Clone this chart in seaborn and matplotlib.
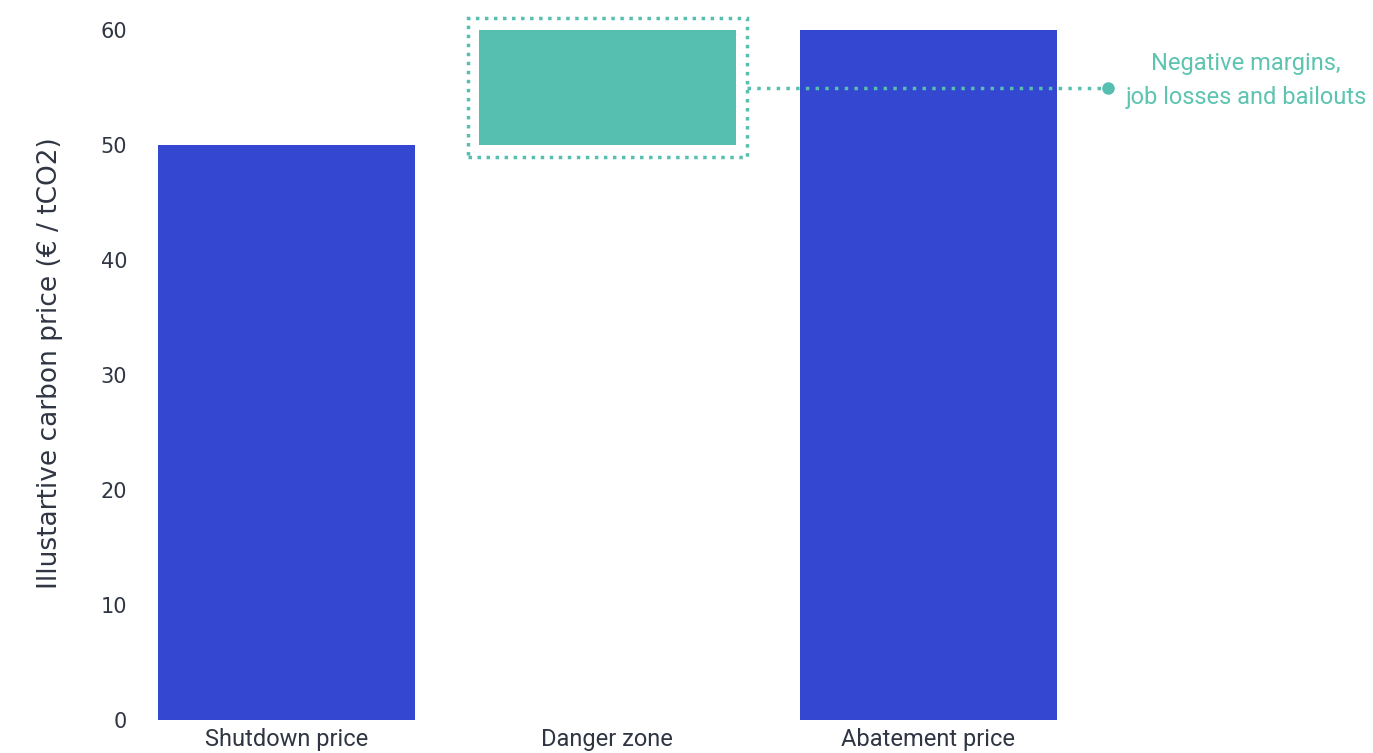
import matplotlib
matplotlib.use("Agg")
import matplotlib.pyplot as plt
import matplotlib.patches as mpatches
import seaborn as sns
import pandas as pd

# Data
categories = ["Shutdown price", "Danger zone", "Abatement price"]
bar_low = [0, 50, 0]
bar_high = [50, 60, 60]
bar_colors = ["#3447D1", "#56BFAF", "#3447D1"]
y_ticks = [0, 10, 20, 30, 40, 50, 60]
y_label = "Illustartive carbon price (€ / tCO2)"
note_text = "Negative margins,\njob losses and bailouts"

teal = "#56BFAF"
text_teal = "#5CC4B0"
dark = "#2F3542"

sns.set_theme(style="white")
plt.rcParams["font.family"] = ["Roboto", "DejaVu Sans"]

df = pd.DataFrame({
    "category": categories,
    "low": bar_low,
    "height": [h - l for h, l in zip(bar_high, bar_low)],
})

fig = plt.figure(figsize=(13.73, 7.53), dpi=100)
ax = fig.add_axes([0.115, 0.0438, 0.885, 0.9469])

sns.barplot(data=df, x="category", y="height", hue="category",
            palette=bar_colors, width=0.8, saturation=1, legend=False,
            ax=ax, order=categories)

# Float each bar on its lower value
for patch, low in zip(ax.patches, bar_low):
    patch.set_y(low)
    patch.set_edgecolor("none")

ax.set_xlim(-0.4, 3.386)
ax.set_ylim(0, 62)
ax.set_yticks(y_ticks)
ax.set_yticklabels([str(t) for t in y_ticks], fontfamily="DejaVu Sans",
                   fontsize=15, color=dark)
ax.tick_params(axis="y", length=0, pad=22)
ax.tick_params(axis="x", length=0, pad=6, labelsize=17, labelcolor=dark)
ax.set_xlabel("")
ax.set_ylabel(y_label, fontfamily="DejaVu Sans", fontsize=19, color=dark,
              labelpad=27)
for s in ax.spines.values():
    s.set_visible(False)

# Dotted frame around the danger zone
di = categories.index("Danger zone")
frame = mpatches.Rectangle((di - 0.435, bar_low[di] - 1.05), 0.87,
                           bar_high[di] - bar_low[di] + 2.1,
                           fill=False, edgecolor=teal, linewidth=2.5,
                           linestyle=(0, (1.0, 1.6)), clip_on=False)
ax.add_patch(frame)

# Leader line to the note
mid = (bar_low[di] + bar_high[di]) / 2
ax.plot([di + 0.435, 2.56], [mid, mid], color=teal, linewidth=2.5,
        linestyle=(0, (1.0, 1.8)), clip_on=False)
ax.plot([2.56], [mid], marker="o", markersize=8, color=teal, clip_on=False)
ax.text(2.99, mid + 0.6, note_text, ha="center", va="center", fontsize=17,
        color=text_teal, linespacing=1.6)

fig.savefig("out.png", dpi=100)
